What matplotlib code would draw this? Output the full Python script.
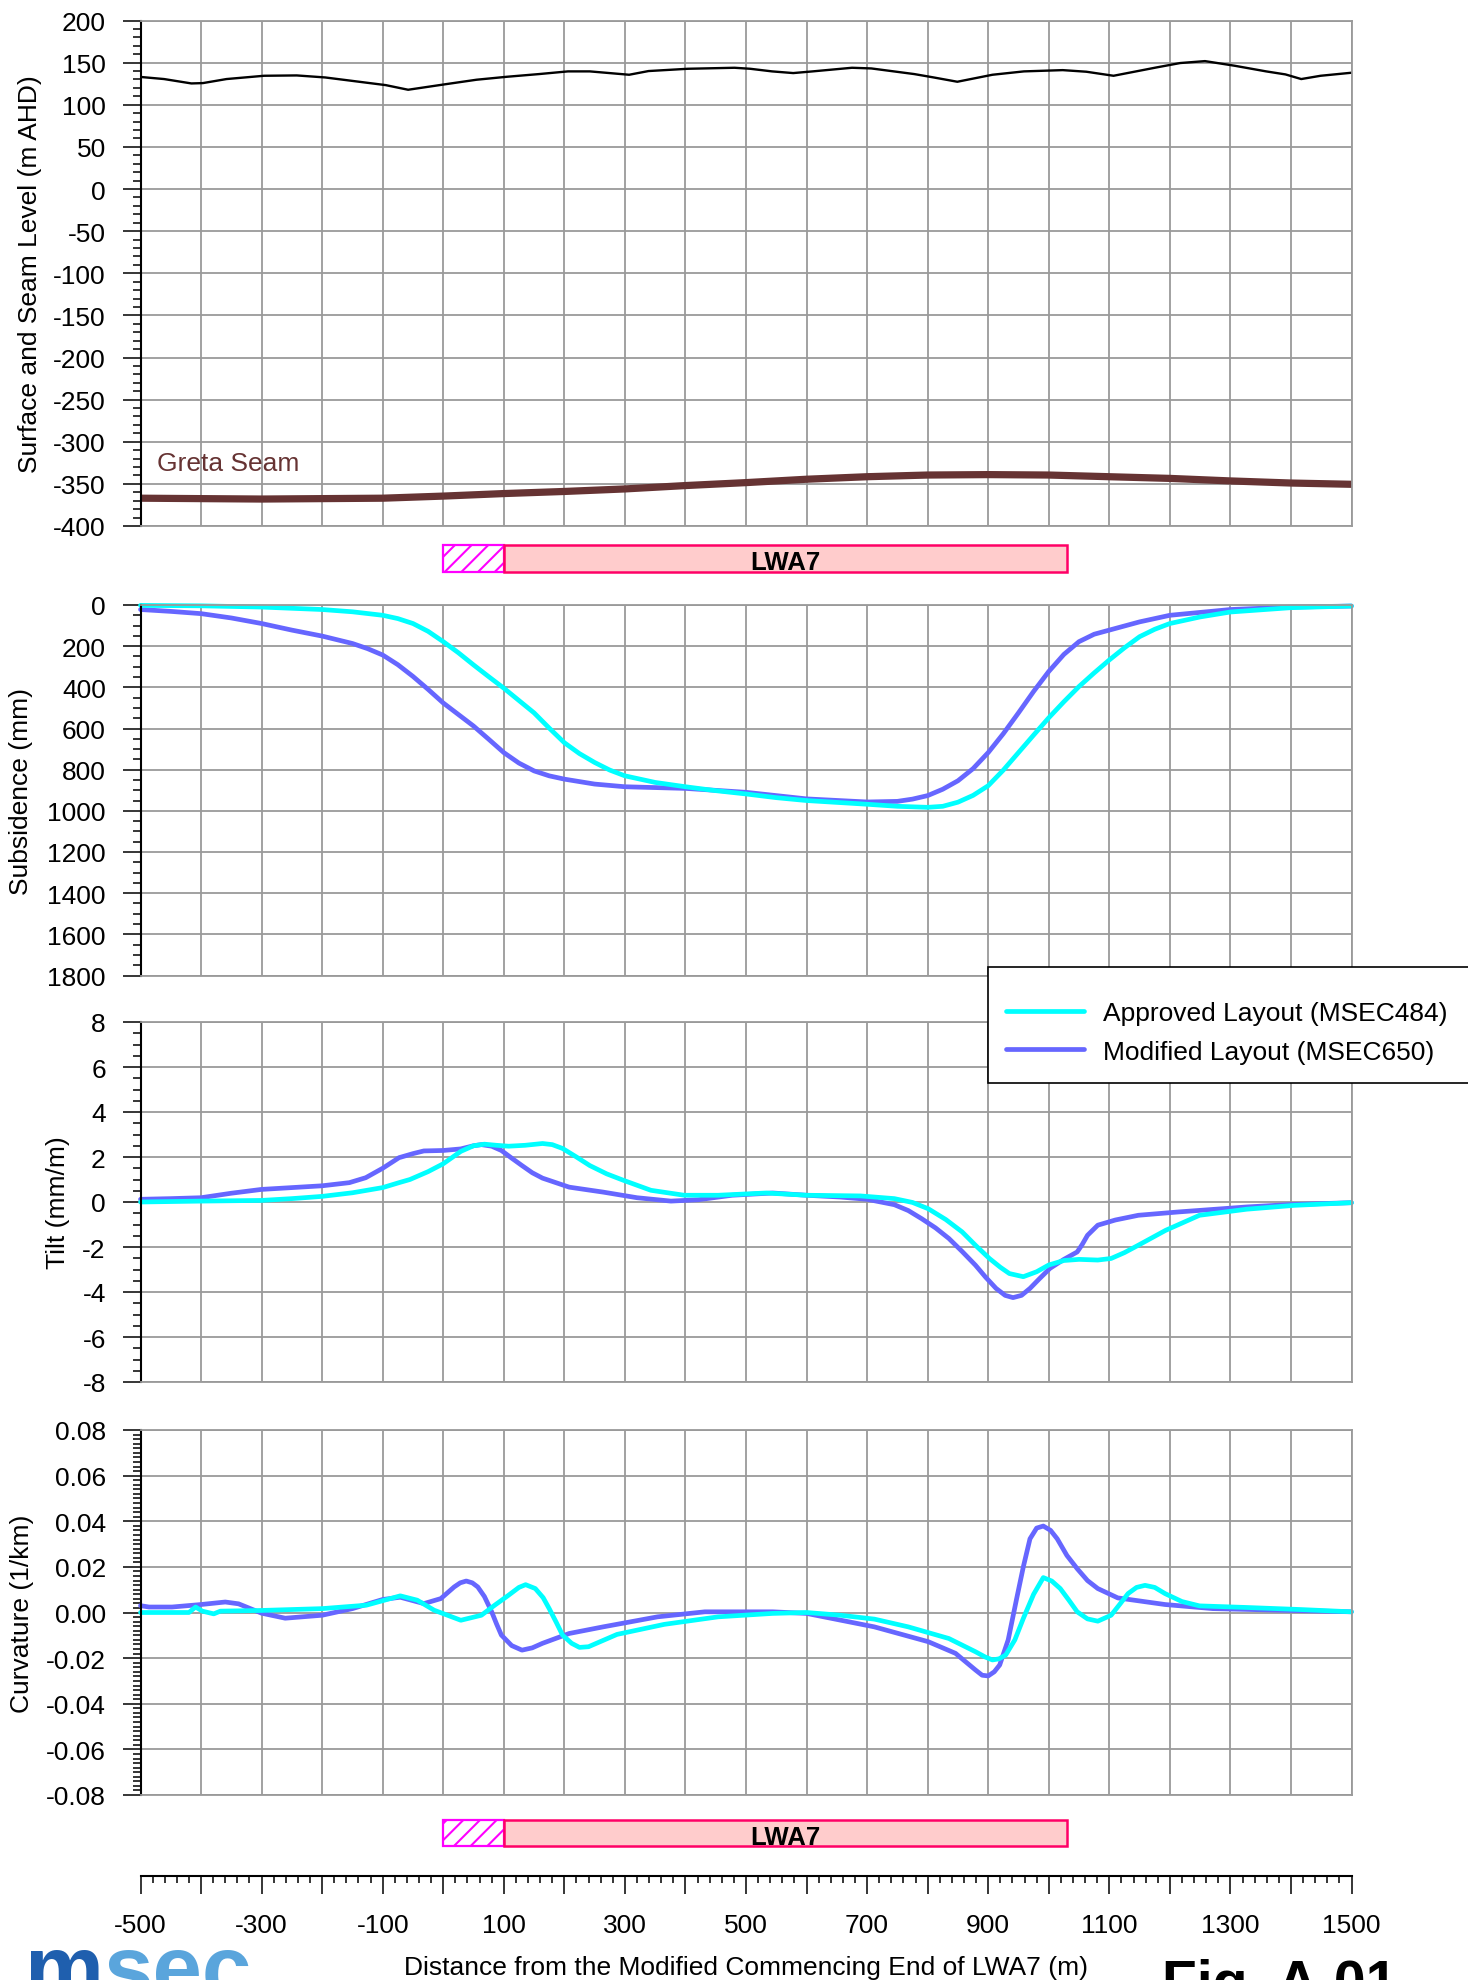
"""
Profil de subsidence le long de LWA7 : niveau du terrain et de la couche,
subsidence, inclinaison et courbure, disposition approuvée vs modifiée.
"""

import numpy as np
import matplotlib
matplotlib.use("Agg")
import matplotlib.pyplot as plt
from matplotlib.patches import Rectangle
from matplotlib.ticker import MultipleLocator, FuncFormatter

# --- data ------------------------------------------------------------------

surface_x = [-500, -461, -416, -397, -358, -296, -242, -195, -139, -95, -58, 5, 55,
             105, 158, 206, 242, 307, 339, 404, 481, 507, 543, 578, 610, 675, 707,
             778, 810, 849, 907, 959, 1023, 1062, 1107, 1178, 1217, 1258, 1307,
             1359, 1391, 1417, 1449, 1500]
surface_y = [133, 130.5, 125.3, 125.7, 130.5, 134.4, 134.8, 132.4, 127.3, 123.3, 117.8,
             124.5, 129.7, 133.2, 136.4, 139.6, 139.6, 135.6, 140, 142.7, 143.9, 142.7,
             139.6, 137.6, 139.6, 143.9, 143.1, 136.4, 132.4, 127.3, 135.6, 139.6, 141.1,
             139.2, 134.4, 144.3, 149.5, 151.8, 146.3, 139.6, 136, 130.5, 134.4, 138]

seam_x = [-500, -300, -100, 0, 100, 200, 300, 400, 500, 600, 700, 800, 900, 1000,
          1100, 1200, 1300, 1400, 1500]
seam_y = [-367, -368, -367, -364.5, -361.5, -359, -356, -352, -348.5, -344.5, -341.5,
          -339.5, -339, -339.5, -341.5, -343.5, -346.5, -349, -350.5]

subs_app_x = [-500, -400, -300, -200, -150, -100, -75, -50, -25, 0, 25, 50, 75, 100, 125,
              150, 175, 200, 225, 250, 275, 300, 350, 400, 450, 500, 550, 600, 700, 750,
              800, 825, 850, 875, 900, 925, 950, 975, 1000, 1025, 1050, 1075, 1100, 1125,
              1150, 1175, 1200, 1250, 1300, 1400, 1500]
subs_app = [2, 4, 10, 22, 33, 50, 66, 90, 128, 178, 232, 291, 348, 404, 464, 524, 598,
            669, 722, 765, 802, 830, 862, 883, 902, 918, 936, 950, 968, 978, 983, 978, 958,
            925, 878, 802, 717, 632, 548, 470, 396, 330, 267, 208, 154, 118, 90, 58, 34,
            13, 5]

subs_mod_x = [-500, -450, -400, -350, -300, -250, -200, -150, -125, -100, -75, -50, -25,
              0, 25, 50, 75, 100, 125, 150, 175, 200, 250, 300, 400, 500, 600, 700, 750,
              775, 800, 825, 850, 875, 900, 925, 950, 975, 1000, 1025, 1050, 1075, 1100,
              1150, 1200, 1300, 1400, 1500]
subs_mod = [22, 31, 42, 63, 90, 122, 151, 187, 212, 243, 290, 347, 410, 476, 532, 588,
            652, 717, 768, 806, 830, 846, 870, 883, 891, 910, 942, 957, 954, 943, 926, 895,
            854, 795, 717, 625, 524, 420, 323, 240, 178, 142, 122, 82, 50, 22, 10, 5]

tilt_app_x = [-500, -400, -300, -250, -200, -150, -100, -73, -55, -25, 0, 29, 50, 68, 88,
              108, 135, 164, 180, 197, 220, 242, 270, 298, 343, 398, 454, 533, 600, 689,
              745, 775, 801, 830, 857, 880, 902, 920, 935, 958, 980, 1000, 1025, 1050,
              1081, 1103, 1125, 1148, 1193, 1249, 1327, 1405, 1500]
tilt_app = [0, 0.04, 0.07, 0.15, 0.25, 0.41, 0.64, 0.86, 1.0, 1.35, 1.7, 2.25, 2.5, 2.57,
            2.52, 2.48, 2.52, 2.6, 2.55, 2.38, 2.0, 1.62, 1.25, 0.96, 0.52, 0.3, 0.3, 0.4,
            0.3, 0.27, 0.15, -0.02, -0.3, -0.78, -1.33, -1.95, -2.51, -2.9, -3.18, -3.32,
            -3.1, -2.8, -2.6, -2.55, -2.58, -2.51, -2.25, -1.92, -1.26, -0.59, -0.32,
            -0.15, -0.03]

tilt_mod_x = [-500, -450, -400, -350, -300, -250, -200, -155, -128, -100, -73, -50, -32,
              0, 29, 50, 63, 80, 96, 113, 130, 147, 164, 208, 264, 320, 376, 421, 477, 544,
              600, 656, 700, 745, 768, 790, 813, 835, 857, 879, 896, 913, 928, 941, 955,
              969, 985, 1002, 1025, 1047, 1055, 1064, 1081, 1110, 1148, 1215, 1327, 1394,
              1500]
tilt_mod = [0.12, 0.15, 0.19, 0.39, 0.56, 0.64, 0.72, 0.86, 1.08, 1.5, 1.97, 2.15, 2.27,
            2.29, 2.36, 2.5, 2.55, 2.48, 2.29, 1.95, 1.62, 1.3, 1.06, 0.66, 0.44, 0.19,
            0.04, 0.1, 0.3, 0.4, 0.3, 0.22, 0.12, -0.12, -0.38, -0.74, -1.15, -1.62,
            -2.2, -2.81, -3.35, -3.84, -4.15, -4.25, -4.15, -3.84, -3.4, -2.95, -2.55,
            -2.22, -1.9, -1.48, -1.03, -0.8, -0.59, -0.44, -0.22, -0.12, -0.03]

curv_app_x = [-500, -420, -409, -398, -379, -368, -300, -200, -127, -71, -43, -15, 29, 63,
              85, 108, 125, 136, 152, 165, 175, 187, 197, 212, 225, 240, 253, 287, 365,
              454, 544, 600, 656, 712, 768, 835, 879, 895, 907, 918, 929, 944, 958, 975,
              991, 1005, 1019, 1033, 1047, 1064, 1081, 1103, 1117, 1131, 1145, 1159, 1175,
              1192, 1220, 1249, 1327, 1416, 1500]
curv_app = [0, 0, 0.0024, 0.0006, -0.0006, 0.0006, 0.0009, 0.0017, 0.0032, 0.0073, 0.0054,
            0.001, -0.0034, -0.0012, 0.0032, 0.0076, 0.011, 0.0122, 0.0105, 0.0065, 0.0017,
            -0.0045, -0.0099, -0.0135, -0.0153, -0.015, -0.0135, -0.0096, -0.0052,
            -0.0019, -0.0004, 0, -0.0012, -0.0029, -0.0063, -0.0114, -0.0172, -0.0195,
            -0.0208, -0.0203, -0.0186, -0.012, -0.0026, 0.008, 0.0153, 0.0138, 0.0105,
            0.0055, 0.0003, -0.0028, -0.0038, -0.0012, 0.0035, 0.0083, 0.011, 0.0119,
            0.011, 0.0083, 0.0048, 0.0029, 0.0022, 0.0013, 0.0003]

curv_mod_x = [-500, -486, -448, -400, -360, -338, -300, -261, -200, -150, -100, -71, -32,
              -4, 18, 28, 38, 48, 57, 68, 80, 88, 96, 113, 130, 147, 164, 208, 264, 354,
              432, 544, 600, 712, 801, 846, 879, 890, 900, 910, 919, 933, 947, 958, 969,
              980, 991, 1003, 1014, 1030, 1047, 1064, 1081, 1114, 1192, 1271, 1383, 1500]
curv_mod = [0.003, 0.0024, 0.0024, 0.0035, 0.0046, 0.0038, -0.0003, -0.0025, -0.0012,
            0.0017, 0.0057, 0.0067, 0.0039, 0.0061, 0.0112, 0.013, 0.0138, 0.013, 0.0112,
            0.007, 0.0003, -0.005, -0.0099, -0.0145, -0.0165, -0.0155, -0.0135, -0.0092,
            -0.0063, -0.0019, 0.0003, 0.0003, -0.0004, -0.0063, -0.0128, -0.0179, -0.0252,
            -0.0275, -0.0278, -0.026, -0.023, -0.012, 0.0061, 0.02, 0.0323, 0.037, 0.0379,
            0.036, 0.0323, 0.025, 0.0192, 0.014, 0.0105, 0.0064, 0.0035, 0.0017, 0.001,
            0.0003]

# panneau LWA7 : partie hachurée (extrémité modifiée) puis panneau principal
lwa7_hatch = [0, 100]
lwa7_main = [100, 1030]

x_label_values = [-500, -300, -100, 100, 300, 500, 700, 900, 1100, 1300, 1500]

# --- styles ------------------------------------------------------------------

plt.rcParams['font.family'] = ['Liberation Sans', 'DejaVu Sans']
plt.rcParams['axes.unicode_minus'] = False
plt.rcParams['hatch.linewidth'] = 1.5

C_APP = '#00FFFF'
C_MOD = '#6666FF'
C_SEAM = '#663333'
GRID = '#9a9a9a'
FS = 19
CURVE = dict(lw=3.4, clip_on=False, solid_joinstyle='round', solid_capstyle='round')

W, H = 1468, 1981
fig = plt.figure(figsize=(W / 100, H / 100), dpi=100)


def px_axes(top, bottom, left=140.5, right=1351.5):
    return fig.add_axes([left / W, 1 - bottom / H, (right - left) / W, (bottom - top) / H])


def style_panel(ax, ylim, major, minor, fmt, label, label_x):
    ax.set_xlim(-500, 1500)
    ax.set_ylim(*ylim)
    ax.xaxis.set_major_locator(MultipleLocator(100))
    ax.tick_params(axis='x', length=0, labelbottom=False)
    ax.yaxis.set_major_locator(MultipleLocator(major))
    ax.yaxis.set_minor_locator(MultipleLocator(minor))
    ax.yaxis.set_major_formatter(FuncFormatter(lambda v, p: fmt.format(round(v, 4) + 0)))
    ax.tick_params(axis='y', which='major', length=13, width=1.1, labelsize=FS, pad=12)
    ax.tick_params(axis='y', which='minor', length=6, width=1.1)
    ax.grid(True, which='major', color=GRID, lw=1.3)
    for s in ['top', 'right', 'bottom']:
        ax.spines[s].set_color(GRID)
        ax.spines[s].set_linewidth(1.3)
    ax.spines['left'].set_linewidth(1.5)
    ax.set_ylabel(label, fontsize=FS)
    ax.yaxis.set_label_coords((label_x - 140.5) / 1211, 0.5)


def lwa7_bar(top, bottom):
    ax = px_axes(top, bottom)
    ax.set_xlim(-500, 1500)
    ax.set_ylim(0, 1)
    ax.axis('off')
    ax.add_patch(Rectangle((lwa7_hatch[0], 0), lwa7_hatch[1] - lwa7_hatch[0], 1,
                           facecolor='white', edgecolor='#FF00FF', hatch='//', lw=1.6,
                           clip_on=False))
    ax.add_patch(Rectangle((lwa7_main[0], 0), lwa7_main[1] - lwa7_main[0], 1,
                           facecolor='#FFCCCC', edgecolor='#FF0066', lw=1.8, clip_on=False))
    ax.text((lwa7_main[0] + lwa7_main[1]) / 2, 0.36, 'LWA7', ha='center', va='center',
            fontsize=18.5, fontweight='bold')


# 1. surface et couche
ax1 = px_axes(21.5, 527)
style_panel(ax1, (-400, 200), 50, 10, '{:.0f}', 'Surface and Seam Level (m AHD)', 42)
ax1.plot(surface_x, surface_y, color='black', lw=1.7, solid_joinstyle='round')
ax1.plot(seam_x, seam_y, color=C_SEAM, lw=5.2)
ax1.text(-472, -325, 'Greta Seam', color=C_SEAM, fontsize=FS, va='center', ha='left')

lwa7_bar(546, 573)

# 2. subsidence
ax2 = px_axes(606, 976.5)
style_panel(ax2, (1800, 0), 200, 50, '{:.0f}', 'Subsidence (mm)', 33)
ax2.plot(subs_mod_x, subs_mod, color=C_MOD, **CURVE)
ax2.plot(subs_app_x, subs_app, color=C_APP, **CURVE)

# 3. inclinaison
ax3 = px_axes(1023, 1383)
style_panel(ax3, (-8, 8), 2, 0.5, '{:.0f}', 'Tilt (mm/m)', 70)
l_mod, = ax3.plot(tilt_mod_x, tilt_mod, color=C_MOD, **CURVE)
l_app, = ax3.plot(tilt_app_x, tilt_app, color=C_APP, **CURVE)

# 4. courbure
ax4 = px_axes(1431, 1796)
style_panel(ax4, (-0.08, 0.08), 0.02, 0.002, '{:.2f}', 'Curvature (1/km)', 34)
ax4.plot(curv_mod_x, curv_mod, color=C_MOD, **CURVE)
ax4.plot(curv_app_x, curv_app, color=C_APP, **CURVE)

lwa7_bar(1821, 1847)

# axe des distances en bas
axx = px_axes(1876, 1877)
axx.set_xlim(-500, 1500)
for s in ['top', 'left', 'right']:
    axx.spines[s].set_visible(False)
axx.spines['bottom'].set_linewidth(1.5)
axx.set_yticks([])
major_x = np.arange(-500, 1501, 100)
axx.set_xticks(major_x)
axx.set_xticklabels([str(v) if v in x_label_values else '' for v in major_x])
axx.xaxis.set_minor_locator(MultipleLocator(20))
axx.tick_params(axis='x', which='major', length=13, width=1.1, labelsize=FS, pad=14)
axx.tick_params(axis='x', which='minor', length=5, width=1.1)
axx.patch.set_visible(False)

fig.text(746 / W, 1 - 1968 / H, 'Distance from the Modified Commencing End of LWA7 (m)',
         ha='center', va='center', fontsize=FS)

# cadre de légende (dépasse le bord droit comme dans l'original)
fig.add_artist(Rectangle((988 / W, 1 - 1084 / H), 520 / W, 116 / H,
                         transform=fig.transFigure, facecolor='white', edgecolor='black',
                         lw=1.2, zorder=4))
leg = fig.legend([l_app, l_mod], ['Approved Layout (MSEC484)', 'Modified Layout (MSEC650)'],
                 loc='upper left', bbox_to_anchor=(1006 / W, 1 - 1002 / H), borderaxespad=0,
                 borderpad=0, fontsize=FS, frameon=False, handlelength=2.95,
                 handletextpad=0.72, labelspacing=0.55)
leg.set_zorder(5)

# logo et numéro de figure (coupés en bas de page)
fig.text(25 / W, 1 - 1998 / H, 'm', fontsize=64, fontweight='bold', color='#1f5fae',
         va='baseline', ha='left')
fig.text(104 / W, 1 - 1998 / H, 'sec', fontsize=64, fontweight='bold', color='#5aa5dc',
         va='baseline', ha='left')
fig.text(1162 / W, 1 - 2001 / H, 'Fig. A.01', fontsize=41, fontweight='bold',
         va='baseline', ha='left')

fig.savefig('out.png', dpi=100)
